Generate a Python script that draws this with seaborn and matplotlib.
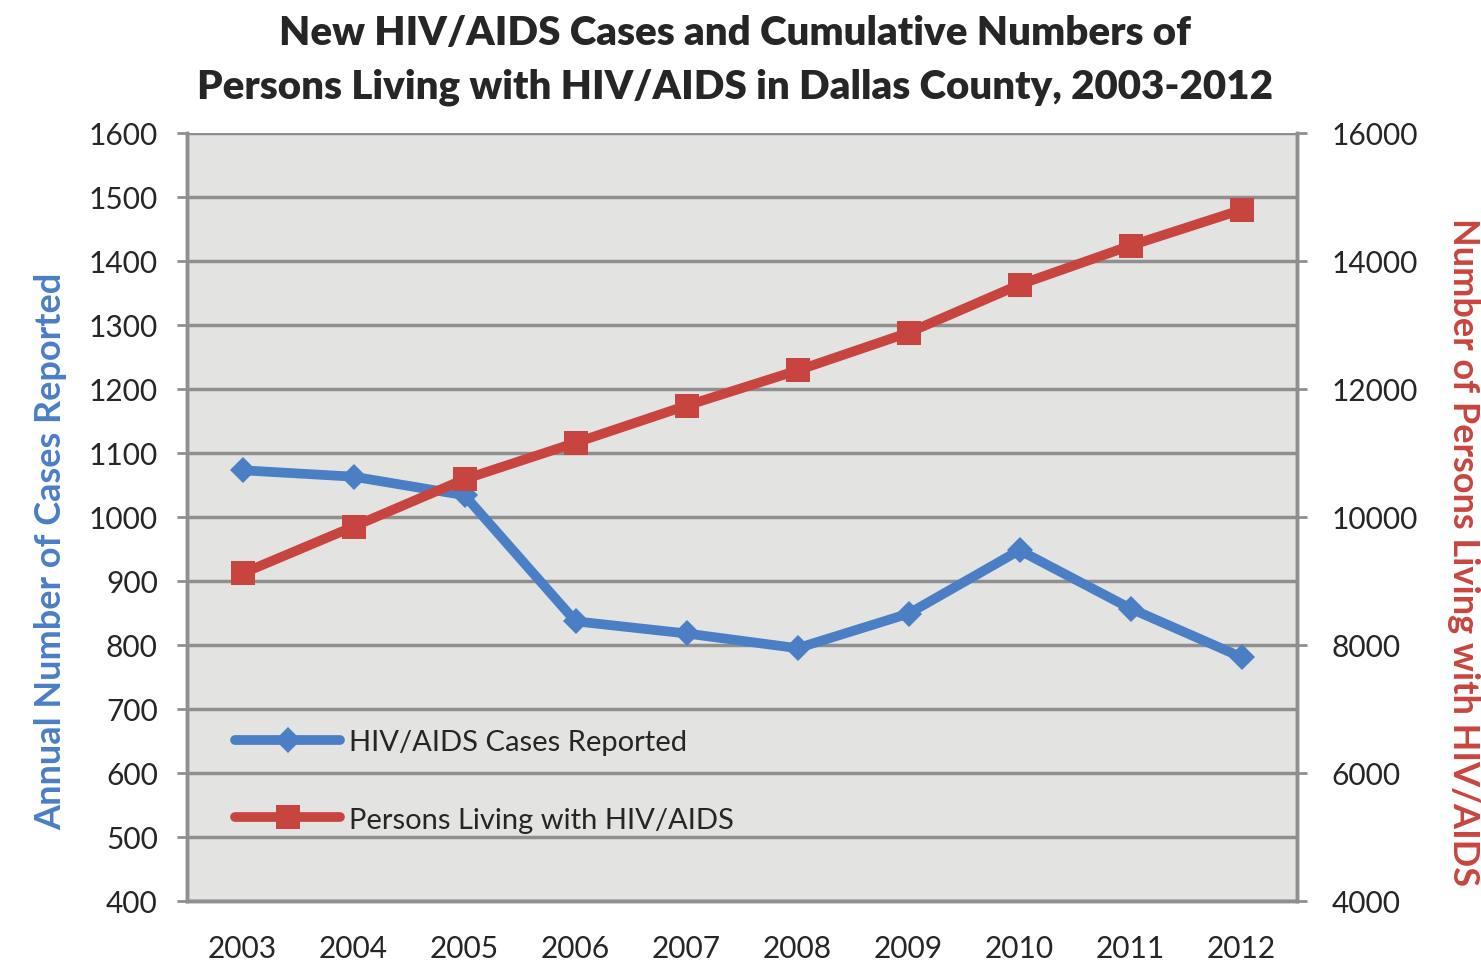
import numpy as np
import pandas as pd
import matplotlib
matplotlib.use("Agg")
import matplotlib.pyplot as plt
import seaborn as sns

# datos
years = ["2003", "2004", "2005", "2006", "2007", "2008", "2009", "2010", "2011", "2012"]
cases_reported = [1073, 1063, 1034, 837, 818, 795, 849, 948, 857, 781]
persons_living = [9120, 9850, 10590, 11160, 11740, 12290, 12880, 13630, 14240, 14800]

blue = "#4A7EC5"
red = "#C8453F"
grid_gray = "#8F8F8F"

df = pd.DataFrame({
    "pos": np.arange(len(years)),
    "Year": years,
    "Cases": cases_reported,
    "Living": persons_living,
})

sns.set_style("white")
plt.rcParams["font.family"] = ["Lato", "DejaVu Sans"]

fig = plt.figure(figsize=(14.81, 9.62), dpi=100)
ax = fig.add_axes([187 / 1481, 60 / 962, 1110 / 1481, 768 / 962])
ax.set_facecolor("#E3E3E1")

sns.lineplot(data=df, x="pos", y="Cases", ax=ax, color=blue, linewidth=7,
             marker="D", markersize=13, markeredgewidth=0,
             label="HIV/AIDS Cases Reported", legend=False)

ax2 = ax.twinx()
sns.lineplot(data=df, x="pos", y="Living", ax=ax2, color=red, linewidth=7,
             marker="s", markersize=17, markeredgewidth=0,
             label="Persons Living with HIV/AIDS", legend=False)

ax.set_xlim(-0.5, len(years) - 0.5)
ax.set_ylim(400, 1600)
ax2.set_ylim(4000, 16000)
ax.set_yticks(range(400, 1601, 100))
ax2.set_yticks(range(4000, 16001, 2000))

ax.set_xticks(df["pos"])
ax.set_xticklabels(years)
ax.set_xticks(np.arange(-0.5, len(years), 1.0), minor=True)
ax.tick_params(axis="x", which="major", length=0, labelsize=21.5, pad=24)
ax.tick_params(axis="x", which="minor", length=8, width=2, color=grid_gray, direction="out")
ax.tick_params(axis="y", length=7, width=2, color=grid_gray, labelsize=21.5, pad=14)
ax2.tick_params(axis="y", length=7, width=2, color=grid_gray, labelsize=21.5, pad=18)

ax.yaxis.grid(True, color=grid_gray, linewidth=2.5)
ax.set_axisbelow(True)

for a in (ax, ax2):
    a.spines["top"].set_visible(False)
    for s in ("left", "right", "bottom"):
        a.spines[s].set_color(grid_gray)
        a.spines[s].set_linewidth(2.5)

ax.set_xlabel("")
ax.set_ylabel("Annual Number of Cases Reported", color=blue, fontsize=26,
              fontweight="bold")
ax2.set_ylabel("Number of Persons Living with HIV/AIDS", color=red, fontsize=26,
               fontweight="bold", rotation=270, va="center")
ax.yaxis.set_label_coords(-120 / 1110, 0.456)
ax2.yaxis.set_label_coords(1 + 166 / 1110, 0.456)

fig.suptitle("New HIV/AIDS Cases and Cumulative Numbers of\nPersons Living with HIV/AIDS in Dallas County, 2003-2012",
             fontsize=29, fontweight="heavy", y=0.984, x=0.496, linespacing=1.55)

h1, l1 = ax.get_legend_handles_labels()
h2, l2 = ax2.get_legend_handles_labels()
leg = ax2.legend(h1 + h2, l1 + l2, loc="lower left", bbox_to_anchor=(0.02, 0.055),
                 frameon=False, fontsize=21, handlelength=3.6, labelspacing=1.75,
                 handletextpad=0.3)

fig.savefig("out.png", dpi=100)
